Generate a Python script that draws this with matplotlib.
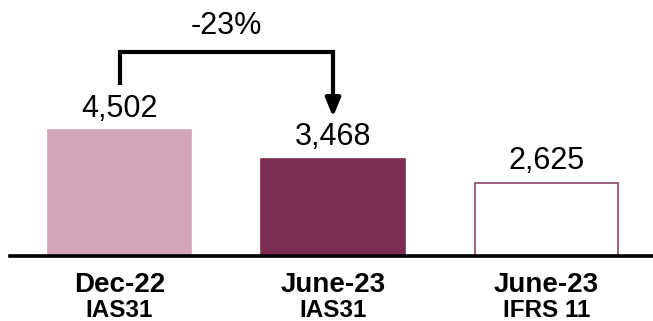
import matplotlib
matplotlib.use("Agg")
import matplotlib.pyplot as plt

plt.rcParams['font.family'] = ['Liberation Sans', 'DejaVu Sans']

periods = ["Dec-22", "June-23", "June-23"]
standards = ["IAS31", "IAS31", "IFRS 11"]
values = [4502, 3468, 2625]
change_label = "-23%"

fill_colors = ["#D3A5BA", "#7B2D52", "#FFFFFF"]
edge_colors = ["#D3A5BA", "#7B2D52", "#8A4467"]

fig = plt.figure(figsize=(6.53, 3.21), dpi=100)
ax = fig.add_axes([0, 0.204, 1, 0.796])

x = list(range(len(values)))
ax.bar(x, values, width=0.67, color=fill_colors, edgecolor=edge_colors, linewidth=1.2)

ax.set_xlim(-0.560, 2.499)
ax.set_ylim(0, 9200)

for xi, v in zip(x, values):
    ax.annotate(f"{v:,}", xy=(xi, v), xytext=(0, 10), textcoords="offset points",
                ha="center", va="baseline", fontsize=22)

# Bracket with arrow from first bar to second bar
y_top = 7330
ax.plot([0, 0, 1, 1], [6140, y_top, y_top, 5600], color="black", lw=3,
        solid_capstyle="butt", solid_joinstyle="miter")
ax.annotate("", xy=(1, 4990), xytext=(1, 5700),
            arrowprops=dict(arrowstyle="-|>,head_length=1.1,head_width=0.45",
                            color="black", lw=3, shrinkA=0, shrinkB=0))
ax.text(0.5, 8260, change_label, ha="center", va="center", fontsize=22)

# Baseline
for s in ["top", "right", "left"]:
    ax.spines[s].set_visible(False)
ax.spines["bottom"].set_linewidth(2.6)
ax.spines["bottom"].set_bounds(-0.513, 2.499)
ax.set_yticks([])
ax.set_xticks(x)
ax.set_xticklabels(periods, fontsize=20, fontweight="bold")
ax.tick_params(axis="x", length=0, pad=12)

for xi, s in zip(x, standards):
    ax.annotate(s, xy=(xi, 0), xycoords=("data", "axes fraction"),
                xytext=(0, -31.5), textcoords="offset points",
                ha="center", va="top", fontsize=17.5, fontweight="bold")

fig.savefig("out.png", dpi=100)
